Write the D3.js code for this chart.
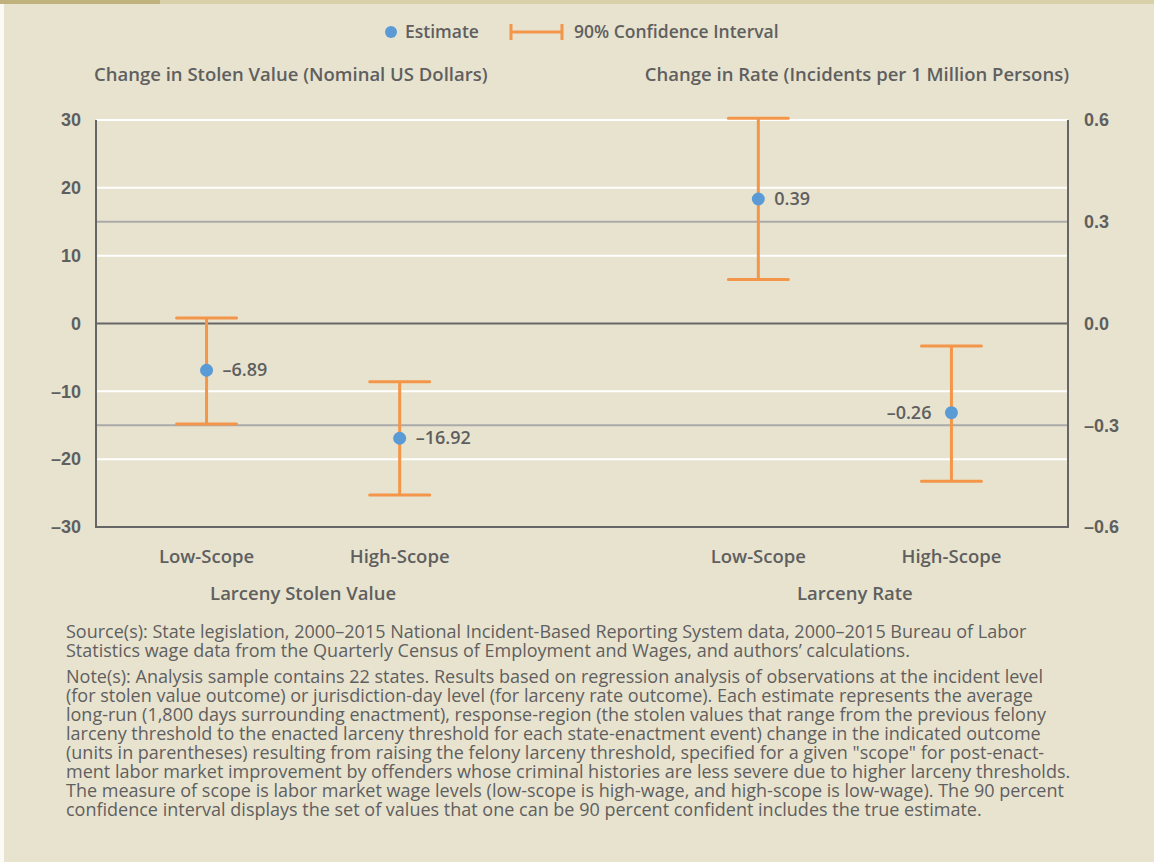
<!DOCTYPE html>
<html>
<head>
<meta charset="utf-8">
<script src="https://cdnjs.cloudflare.com/ajax/libs/d3/7.8.5/d3.min.js"></script>
<style>
  body { margin: 0; background: #fff; }
  svg { display: block; font-family: "Open Sans", sans-serif; }
</style>
</head>
<body>
<div id="vis-container"></div>
<script>
var groups = ["Larceny Stolen Value", "Larceny Rate"];
var scopes = ["Low-Scope", "High-Scope"];

// stolen value panel (left axis, US dollars)
var valueEstimate = [-6.89, -16.92];
var valueLow      = [-14.8, -25.3];
var valueHigh     = [0.8, -8.6];
var valueLabels   = ["–6.89", "–16.92"];

// rate panel (right axis, incidents per 1M persons)
var rateEstimate = [0.367, -0.263];
var rateLow      = [0.13, -0.465];
var rateHigh     = [0.605, -0.066];
var rateLabels   = ["0.39", "–0.26"];

var leftTicks  = [30, 20, 10, 0, -10, -20, -30];
var rightTicks = [0.6, 0.3, 0, -0.3, -0.6];

var noteLines = [
  "Source(s): State legislation, 2000–2015 National Incident-Based Reporting System data, 2000–2015 Bureau of Labor",
  "Statistics wage data from the Quarterly Census of Employment and Wages, and authors’ calculations.",
  null,
  "Note(s): Analysis sample contains 22 states. Results based on regression analysis of observations at the incident level",
  "(for stolen value outcome) or jurisdiction-day level (for larceny rate outcome). Each estimate represents the average",
  "long-run (1,800 days surrounding enactment), response-region (the stolen values that range from the previous felony",
  "larceny threshold to the enacted larceny threshold for each state-enactment event) change in the indicated outcome",
  "(units in parentheses) resulting from raising the felony larceny threshold, specified for a given \"scope\" for post-enact-",
  "ment labor market improvement by offenders whose criminal histories are less severe due to higher larceny thresholds.",
  "The measure of scope is labor market wage levels (low-scope is high-wage, and high-scope is low-wage). The 90 percent",
  "confidence interval displays the set of values that one can be 90 percent confident includes the true estimate."
];

var W = 1154, H = 862;
var textCol = "#5f5f5f", orange = "#f4964a", blue = "#5b9bd5";
var plotL = 96, plotR = 1068, plotT = 120, plotB = 527;

var svg = d3.select("#vis-container").append("svg")
    .attr("width", W).attr("height", H);

svg.append("rect").attr("width", W).attr("height", H).attr("fill", "#e8e3cf");
svg.append("rect").attr("x", 0).attr("y", 4).attr("width", 4).attr("height", H).attr("fill", "#fbfaf5");
svg.append("rect").attr("width", W).attr("height", 4).attr("fill", "#d9cfa8");
svg.append("rect").attr("width", 160).attr("height", 4).attr("fill", "#bfb27c");

var yL = d3.scaleLinear().domain([-30, 30]).range([plotB, plotT]);
var yR = d3.scaleLinear().domain([-0.6, 0.6]).range([plotB, plotT]);

var gx = d3.scaleBand().domain(groups).range([110, 1048]).paddingInner(0.3);
var sx = d3.scaleBand().domain(scopes).range([0, gx.bandwidth()]);
var xPos = function(g, s) { return gx(g) + sx(s) + sx.bandwidth() / 2; };

var fmt = function(v, f) { return d3.format(f)(v).replace("−", "–").replace("-", "–"); };

// white grid lines on left ticks
svg.append("g").selectAll("line")
  .data(leftTicks.filter(function(d) { return d !== 0 && d !== -30; }))
  .enter().append("line")
    .attr("x1", plotL).attr("x2", plotR)
    .attr("y1", function(d) { return yL(d); }).attr("y2", function(d) { return yL(d); })
    .attr("stroke", "#fff").attr("stroke-width", 2);

// grey lines on right ticks
svg.append("g").selectAll("line")
  .data(rightTicks.filter(function(d) { return Math.abs(d) === 0.3; }))
  .enter().append("line")
    .attr("x1", plotL).attr("x2", plotR)
    .attr("y1", function(d) { return yR(d); }).attr("y2", function(d) { return yR(d); })
    .attr("stroke", "#aaaaaa").attr("stroke-width", 2);

// zero line and frame
var axisCol = "#666";
svg.append("line").attr("x1", plotL).attr("x2", plotR).attr("y1", yL(0)).attr("y2", yL(0))
   .attr("stroke", axisCol).attr("stroke-width", 2);
svg.append("path")
   .attr("d", "M" + plotL + "," + plotT + "V" + plotB + "H" + plotR + "V" + plotT)
   .attr("fill", "none").attr("stroke", axisCol).attr("stroke-width", 2);

// axes
var axL = svg.append("g").attr("transform", "translate(" + plotL + ",0)")
    .call(d3.axisLeft(yL).tickValues(leftTicks).tickSize(0).tickPadding(15)
        .tickFormat(function(d) { return fmt(d, "d"); }));
var axR = svg.append("g").attr("transform", "translate(" + plotR + ",0)")
    .call(d3.axisRight(yR).tickValues(rightTicks).tickSize(0).tickPadding(16)
        .tickFormat(function(d) { return fmt(d, ".1f"); }));
[axL, axR].forEach(function(a) {
  a.select(".domain").remove();
  a.selectAll("text").attr("fill", textCol).style("font-size", "18px").style("font-weight", 600)
    .attr("font-family", null);
});

// axis titles
svg.append("text").attr("x", 94).attr("y", 81).attr("fill", textCol)
   .style("font-size", "18.5px").style("font-weight", 600)
   .text("Change in Stolen Value (Nominal US Dollars)");
svg.append("text").attr("x", 1069).attr("y", 81).attr("text-anchor", "end").attr("fill", textCol)
   .style("font-size", "18.5px").style("font-weight", 600)
   .text("Change in Rate (Incidents per 1 Million Persons)");

// legend
var lg = svg.append("g");
lg.append("circle").attr("cx", 391).attr("cy", 32).attr("r", 6).attr("fill", blue);
lg.append("text").attr("x", 405).attr("y", 38).attr("fill", textCol)
  .style("font-size", "17.5px").style("font-weight", 600).text("Estimate");
lg.append("path").attr("d", "M511,24V40M511,32H562M562,24V40")
  .attr("stroke", orange).attr("stroke-width", 3).attr("fill", "none");
lg.append("text").attr("x", 574).attr("y", 38).attr("fill", textCol)
  .style("font-size", "17.5px").style("font-weight", 600).text("90% Confidence Interval");

// build points
var points = [];
scopes.forEach(function(s, i) {
  points.push({ g: groups[0], s: s, y: yL, est: valueEstimate[i], lo: valueLow[i], hi: valueHigh[i], lab: valueLabels[i], side: 1 });
});
scopes.forEach(function(s, i) {
  points.push({ g: groups[1], s: s, y: yR, est: rateEstimate[i], lo: rateLow[i], hi: rateHigh[i], lab: rateLabels[i], side: i === 1 ? -1 : 1 });
});

var capW = 30;
var pg = svg.append("g").selectAll("g").data(points).enter().append("g");
pg.append("path")
  .attr("d", function(d) {
    var x = xPos(d.g, d.s), y1 = d.y(d.hi), y0 = d.y(d.lo);
    return "M" + (x - capW) + "," + y1 + "H" + (x + capW) +
           "M" + x + "," + y1 + "V" + y0 +
           "M" + (x - capW) + "," + y0 + "H" + (x + capW);
  })
  .attr("stroke", orange).attr("stroke-width", 3).attr("fill", "none").attr("stroke-linecap", "round");
pg.append("circle")
  .attr("cx", function(d) { return xPos(d.g, d.s); })
  .attr("cy", function(d) { return d.y(d.est); })
  .attr("r", 6.5).attr("fill", blue);
pg.append("text")
  .attr("x", function(d) { return xPos(d.g, d.s) + d.side * (d.side > 0 ? 16 : 20); })
  .attr("y", function(d) { return d.y(d.est) + 6; })
  .attr("text-anchor", function(d) { return d.side > 0 ? "start" : "end"; })
  .attr("fill", textCol).style("font-size", "18px").style("font-weight", 600)
  .text(function(d) { return d.lab; });

// category labels
groups.forEach(function(g) {
  scopes.forEach(function(s) {
    svg.append("text").attr("x", xPos(g, s)).attr("y", 563).attr("text-anchor", "middle")
      .attr("fill", textCol).style("font-size", "18.5px").style("font-weight", 600).text(s);
  });
  svg.append("text").attr("x", gx(g) + gx.bandwidth() / 2).attr("y", 600).attr("text-anchor", "middle")
    .attr("fill", textCol).style("font-size", "18.5px").style("font-weight", 600).text(g);
});

// notes
var ny = 638;
noteLines.forEach(function(l) {
  if (l === null) { ny += 7; return; }
  svg.append("text").attr("x", 66).attr("y", ny).attr("fill", textCol)
    .style("font-size", "18px").text(l);
  ny += 19;
});
</script>
</body>
</html>
